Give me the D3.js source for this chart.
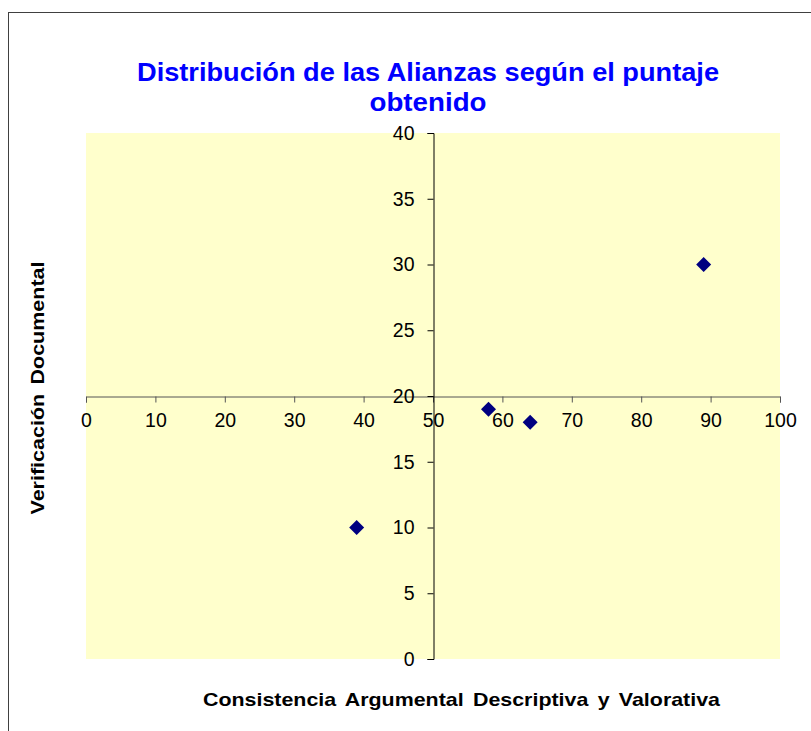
<!DOCTYPE html>
<html><head><meta charset="utf-8">
<script src="https://cdn.jsdelivr.net/npm/d3@7"></script>
<style>body{margin:0;background:#fff}svg{display:block}</style>
</head><body>
<script>
const xValues = [39, 58, 64, 89];
const yValues = [10, 19, 18, 30];
const xTicks = [0,10,20,30,40,50,60,70,80,90,100];
const yTicks = [0,5,10,15,20,25,30,35,40];
const titleLines = ["Distribución de las Alianzas según el puntaje","obtenido"];
const xTitle = "Consistencia Argumental Descriptiva y Valorativa";
const yTitle = "Verificación Documental";

const W=811,H=731;
const svg=d3.select("body").append("svg").attr("width",W).attr("height",H);
svg.append("rect").attr("x",8.5).attr("y",12.5).attr("width",W).attr("height",H).attr("fill","#fff").attr("stroke","#404040").attr("stroke-width",1);

const L=86,R=780,T=133,B=659;
const x=d3.scaleLinear().domain([0,100]).range([L,R]);
const y=d3.scaleLinear().domain([0,40]).range([B,T]);
svg.append("rect").attr("x",L).attr("y",T).attr("width",R-L).attr("height",B-T).attr("fill","#FFFFCC");

const font="Arial, 'Liberation Sans', sans-serif";
// title
const titleLens=[582,117], titleY=[81,111];
svg.append("g").selectAll("text").data(titleLines).join("text")
 .attr("x",428).attr("y",(d,i)=>titleY[i]).attr("text-anchor","middle").attr("fill","#0000FF")
 .attr("font-family",font).attr("font-weight","bold").attr("font-size",26)
 .attr("textLength",(d,i)=>titleLens[i]).attr("lengthAdjust","spacingAndGlyphs").text(d=>d);

// x axis at y=20
const xAxis=d3.axisBottom(x).tickValues(xTicks).tickSize(6).tickPadding(11);
const gx=svg.append("g").attr("transform",`translate(0,${Math.round(y(20))+0.5})`).call(xAxis);
gx.select(".domain").attr("stroke","#555");
gx.selectAll(".tick line").attr("stroke","#555");
gx.selectAll("text").attr("font-family",font).attr("font-size",19.5).attr("fill","#000");
// y axis at x=50
const yAxis=d3.axisLeft(y).tickValues(yTicks).tickSize(6).tickPadding(13);
const gy=svg.append("g").attr("transform",`translate(${Math.round(x(50))+0.5},0)`).call(yAxis);
gy.select(".domain").attr("stroke","#000");
gy.selectAll(".tick line").attr("stroke","#000");
gy.selectAll("text").attr("font-family",font).attr("font-size",19.5).attr("fill","#000");

// points
const pts=xValues.map((v,i)=>({x:v,y:yValues[i]}));
const s=7.5;
svg.append("g").selectAll("path").data(pts).join("path")
 .attr("d",d=>{const cx=x(d.x),cy=y(d.y);return `M${cx},${cy-s}L${cx+s},${cy}L${cx},${cy+s}L${cx-s},${cy}Z`;})
 .attr("fill","#000080");

// axis titles
svg.append("text").attr("x",461.5).attr("y",706).attr("text-anchor","middle").attr("font-family",font)
 .attr("font-weight","bold").attr("font-size",19).attr("word-spacing",3)
 .attr("textLength",517).attr("lengthAdjust","spacingAndGlyphs").text(xTitle);
svg.append("text").attr("transform","translate(44,388) rotate(-90)").attr("text-anchor","middle").attr("font-family",font)
 .attr("font-weight","bold").attr("font-size",19).attr("word-spacing",3)
 .attr("textLength",253).attr("lengthAdjust","spacingAndGlyphs").text(yTitle);
</script>
</body></html>
